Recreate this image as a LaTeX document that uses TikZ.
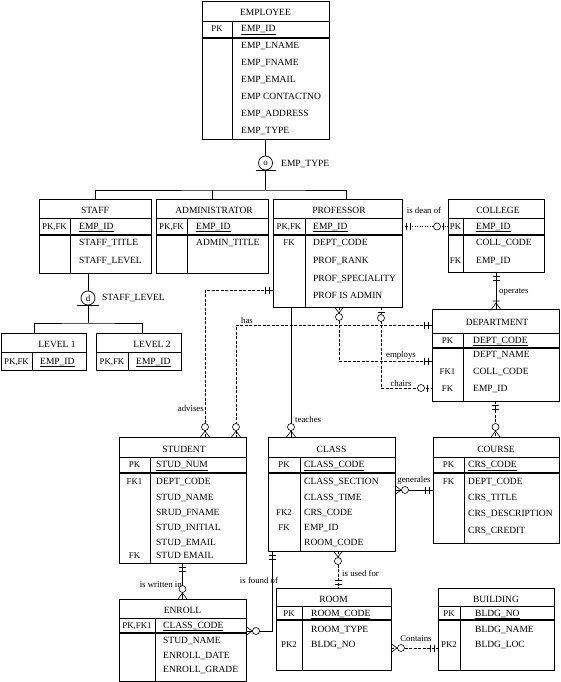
\documentclass[tikz,border=0pt]{standalone}
\usepackage{fontspec}
\setmainfont{Liberation Serif}
\usepackage{tikz}
\usetikzlibrary{positioning, decorations.markings}

\tikzset{
  mone/.pic={\draw[solid, line width=0.6pt] (-4pt,-3.5pt) -- (-4pt,3.5pt) (-8pt,-3.5pt) -- (-8pt,3.5pt);},
  oone/.pic={\draw[solid, line width=0.6pt] (-5pt,-3.5pt) -- (-5pt,3.5pt); \draw[solid, line width=0.6pt, fill=white] (-11pt,0pt) circle (3.5pt);},
  omany/.pic={\draw[solid, line width=0.6pt] (0pt,-4.5pt) -- (-6pt,0pt) -- (0pt,4.5pt); \draw[solid, line width=0.6pt, fill=white] (-10pt,0pt) circle (3.5pt);},
  mmany/.pic={\draw[solid, line width=0.6pt] (0pt,-4.5pt) -- (-6pt,0pt) -- (0pt,4.5pt) (-8pt,-3.5pt) -- (-8pt,3.5pt);},
  mkstart/.style={postaction={decorate, decoration={markings, mark=at position 0 with {\pic[transform shape, xscale=-1]{#1};}}}},
  mkend/.style={postaction={decorate, decoration={markings, mark=at position 1 with {\pic[transform shape]{#1};}}}}
}

\begin{document}
\begin{tikzpicture}[x=1pt, y=-1pt,
entity/.style={draw, rectangle, line width=0.8pt, inner sep=0pt, outer sep=0pt},
rowline/.style={line width=0.6pt},
pkline/.style={line width=1.1pt},
enttitle/.style={inner sep=0pt, font=\fontsize{9.5}{11}\selectfont, text height=6.5pt, text depth=1.5pt},
attr/.style={anchor=west, inner sep=0pt, font=\fontsize{9.5}{11}\selectfont, text height=6.5pt, text depth=1.5pt},
keytext/.style={inner sep=0pt, font=\fontsize{8.8}{10}\selectfont, text height=6.5pt, text depth=1.5pt},
rel/.style={line width=0.6pt},
dashrel/.style={rel, dash pattern=on 3pt off 1.5pt},
dotrel/.style={rel, dash pattern=on 1pt off 1.5pt},
lbl/.style={inner sep=0pt, font=\fontsize{8.8}{10}\selectfont},
disc/.style={circle, draw, line width=0.7pt, minimum size=14pt, inner sep=0pt, font=\fontsize{9}{10}\selectfont}
]
\useasboundingbox (0,0) rectangle (560,682);

% Employee
\node[entity, minimum width=127pt, minimum height=138pt] (employee) at (265.5,70) {};
\draw[rowline] (202,21) -- (329,21);
\draw[pkline] (202,38) -- (329,38);
\draw[rowline] (232,21) -- (232,139);
\node[enttitle] (employee-t) at (265.5,13) {EMPLOYEE};
\node[keytext] (employee-k0) at (217,29.5) {PK};
\node[attr] (employee-a0) at (241,29.5) {\underline{EMP\_ID}};
\node[attr] (employee-a1) at (241,46) {EMP\_LNAME};
\node[attr] (employee-a2) at (241,63) {EMP\_FNAME};
\node[attr] (employee-a3) at (241,80) {EMP\_EMAIL};
\node[attr] (employee-a4) at (241,97) {EMP CONTACTNO};
\node[attr] (employee-a5) at (241,114) {EMP\_ADDRESS};
\node[attr] (employee-a6) at (241,131) {EMP\_TYPE};

% Staff
\node[entity, minimum width=112pt, minimum height=74pt] (staff) at (95,236) {};
\draw[rowline] (39,218) -- (151,218);
\draw[pkline] (39,235) -- (151,235);
\draw[rowline] (70,218) -- (70,273);
\node[enttitle] (staff-t) at (95,211) {STAFF};
\node[keytext] (staff-k0) at (54.5,226.5) {PK,FK};
\node[attr] (staff-a0) at (79,226.5) {\underline{EMP\_ID}};
\node[attr] (staff-a1) at (79,243) {STAFF\_TITLE};
\node[attr] (staff-a2) at (79,261) {STAFF\_LEVEL};

% Administrator
\node[entity, minimum width=112pt, minimum height=74pt] (admin) at (212,236) {};
\draw[rowline] (156,218) -- (268,218);
\draw[pkline] (156,235) -- (268,235);
\draw[rowline] (187,218) -- (187,273);
\node[enttitle] (admin-t) at (214,211) {ADMINISTRATOR};
\node[keytext] (admin-k0) at (171.5,226.5) {PK,FK};
\node[attr] (admin-a0) at (196,226.5) {\underline{EMP\_ID}};
\node[attr] (admin-a1) at (196,243) {ADMIN\_TITLE};

% Professor
\node[entity, minimum width=129pt, minimum height=108pt] (professor) at (337.5,253) {};
\draw[rowline] (273,218) -- (402,218);
\draw[pkline] (273,235) -- (402,235);
\draw[rowline] (305,218) -- (305,307);
\node[enttitle] (professor-t) at (339,211) {PROFESSOR};
\node[keytext] (professor-k0) at (289,226.5) {PK,FK};
\node[attr] (professor-a0) at (313,226.5) {\underline{EMP\_ID}};
\node[keytext] (professor-k1) at (289,243) {FK};
\node[attr] (professor-a1) at (313,243) {DEPT\_CODE};
\node[attr] (professor-a2) at (313,261) {PROF\_RANK};
\node[attr] (professor-a3) at (313,279) {PROF\_SPECIALITY};
\node[attr] (professor-a4) at (313,296) {PROF IS ADMIN};

% College
\node[entity, minimum width=96pt, minimum height=73pt] (college) at (496,235.5) {};
\draw[rowline] (448,218) -- (544,218);
\draw[pkline] (448,235) -- (544,235);
\draw[rowline] (463,218) -- (463,272);
\node[enttitle] (college-t) at (498,211) {COLLEGE};
\node[keytext] (college-k0) at (455.5,226.5) {PK};
\node[attr] (college-a0) at (476,226.5) {\underline{EMP\_ID}};
\node[attr] (college-a1) at (476,243) {COLL\_CODE};
\node[keytext] (college-k2) at (455.5,261) {FK};
\node[attr] (college-a2) at (476,261) {EMP\_ID};

% Level 1 and Level 2
\node[entity, minimum width=85pt, minimum height=37pt] (level1) at (43.5,351.5) {};
\draw[rowline] (1,352) -- (86,352);
\draw[rowline] (32,352) -- (32,370);
\node[enttitle] (level1-t) at (57,345) {LEVEL 1};
\node[keytext] (level1-k0) at (16.5,361.5) {PK,FK};
\node[attr] (level1-a0) at (40,361.5) {\underline{EMP\_ID}};

\node[entity, minimum width=85pt, minimum height=37pt] (level2) at (138.5,351.5) {};
\draw[rowline] (96,352) -- (181,352);
\draw[rowline] (128,352) -- (128,370);
\node[enttitle] (level2-t) at (152,345) {LEVEL 2};
\node[keytext] (level2-k0) at (112,361.5) {PK,FK};
\node[attr] (level2-a0) at (136,361.5) {\underline{EMP\_ID}};

% Department
\node[entity, minimum width=127pt, minimum height=92pt] (department) at (495.5,355) {};
\draw[rowline] (432,333) -- (559,333);
\draw[pkline] (432,348) -- (559,348);
\draw[rowline] (463,333) -- (463,401);
\node[enttitle] (department-t) at (497,323) {DEPARTMENT};
\node[keytext] (department-k0) at (447.5,340.5) {PK};
\node[attr] (department-a0) at (473,340.5) {\underline{DEPT\_CODE}};
\node[attr] (department-a1) at (473,355) {DEPT\_NAME};
\node[keytext] (department-k2) at (447.5,372) {FK1};
\node[attr] (department-a2) at (473,372) {COLL\_CODE};
\node[keytext] (department-k3) at (447.5,389) {FK};
\node[attr] (department-a3) at (473,389) {EMP\_ID};

% Student
\node[entity, minimum width=127pt, minimum height=126pt] (student) at (182.5,500) {};
\draw[rowline] (119,457) -- (246,457);
\draw[pkline] (119,473) -- (246,473);
\draw[rowline] (150,457) -- (150,563);
\node[enttitle] (student-t) at (184,449.5) {STUDENT};
\node[keytext] (student-k0) at (134.5,465) {PK};
\node[attr] (student-a0) at (156,465) {\underline{STUD\_NUM}};
\node[keytext] (student-k1) at (134.5,482) {FK1};
\node[attr] (student-a1) at (156,482) {DEPT\_CODE};
\node[attr] (student-a2) at (156,498) {STUD\_NAME};
\node[attr] (student-a3) at (156,512.5) {SRUD\_FNAME};
\node[attr] (student-a4) at (156,528) {STUD\_INITIAL};
\node[attr] (student-a5) at (156,542.5) {STUD\_EMAIL};
\node[keytext] (student-k6) at (134.5,556) {FK};
\node[attr] (student-a6) at (156,556) {STUD EMAIL};

% Class
\node[entity, minimum width=127pt, minimum height=114pt] (class) at (331.5,494) {};
\draw[rowline] (268,457) -- (395,457);
\draw[pkline] (268,473) -- (395,473);
\draw[rowline] (300,457) -- (300,551);
\node[enttitle] (class-t) at (331.5,449.5) {CLASS};
\node[keytext] (class-k0) at (284,465) {PK};
\node[attr] (class-a0) at (304,465) {\underline{CLASS\_CODE}};
\node[attr] (class-a1) at (304,482) {CLASS\_SECTION};
\node[attr] (class-a2) at (304,498) {CLASS\_TIME};
\node[keytext] (class-k3) at (284,512.5) {FK2};
\node[attr] (class-a3) at (304,512.5) {CRS\_CODE};
\node[keytext] (class-k4) at (284,528) {FK};
\node[attr] (class-a4) at (304,528) {EMP\_ID};
\node[attr] (class-a5) at (304,542.5) {ROOM\_CODE};

% Course
\node[entity, minimum width=126pt, minimum height=106pt] (course) at (496,490) {};
\draw[rowline] (433,457) -- (559,457);
\draw[pkline] (433,473) -- (559,473);
\draw[rowline] (464,457) -- (464,543);
\node[enttitle] (course-t) at (496,449.5) {COURSE};
\node[keytext] (course-k0) at (448.5,465) {PK};
\node[attr] (course-a0) at (468,465) {\underline{CRS\_CODE}};
\node[keytext] (course-k1) at (448.5,482) {FK};
\node[attr] (course-a1) at (468,482) {DEPT\_CODE};
\node[attr] (course-a2) at (468,498) {CRS\_TITLE};
\node[attr] (course-a3) at (468,514) {CRS\_DESCRIPTION};
\node[attr] (course-a4) at (468,531) {CRS\_CREDIT};

% Enroll
\node[entity, minimum width=127pt, minimum height=82pt] (enroll) at (182.5,640) {};
\draw[rowline] (119,618) -- (246,618);
\draw[pkline] (119,633) -- (246,633);
\draw[rowline] (155,618) -- (155,681);
\node[enttitle] (enroll-t) at (182.5,610.5) {ENROLL};
\node[keytext] (enroll-k0) at (137,625.5) {PK,FK1};
\node[attr] (enroll-a0) at (163,625.5) {\underline{CLASS\_CODE}};
\node[attr] (enroll-a1) at (163,641) {STUD\_NAME};
\node[attr] (enroll-a2) at (163,656) {ENROLL\_DATE};
\node[attr] (enroll-a3) at (163,670) {ENROLL\_GRADE};

% Room
\node[entity, minimum width=115pt, minimum height=82pt] (room) at (333.5,629) {};
\draw[rowline] (276,606) -- (391,606);
\draw[pkline] (276,620) -- (391,620);
\draw[rowline] (302,606) -- (302,670);
\node[enttitle] (room-t) at (333.5,599.5) {ROOM};
\node[keytext] (room-k0) at (289,613.5) {PK};
\node[attr] (room-a0) at (311,613.5) {\underline{ROOM\_CODE}};
\node[attr] (room-a1) at (311,630) {ROOM\_TYPE};
\node[keytext] (room-k2) at (289,645) {PK2};
\node[attr] (room-a2) at (311,645) {BLDG\_NO};

% Building
\node[entity, minimum width=116pt, minimum height=82pt] (building) at (496,629) {};
\draw[rowline] (438,606) -- (554,606);
\draw[pkline] (438,620) -- (554,620);
\draw[rowline] (460,606) -- (460,670);
\node[enttitle] (building-t) at (496,599.5) {BUILDING};
\node[keytext] (building-k0) at (449,613.5) {PK};
\node[attr] (building-a0) at (475,613.5) {\underline{BLDG\_NO}};
\node[attr] (building-a1) at (475,630) {BLDG\_NAME};
\node[keytext] (building-k2) at (449,645) {PK2};
\node[attr] (building-a2) at (475,645) {BLDG\_LOC};

% Subtypes
\node[disc] (emptype) at (265.5,163) {o};
\draw[rel] ([xshift=-10pt]emptype.south) -- ([xshift=10pt]emptype.south);
\node[attr] (emptype-l) at (281,164) {EMP\_TYPE};
\coordinate (typesplit) at (265.5,190);
\draw[rel] (employee.south) -- (emptype.north);
\draw[rel] (emptype.south) -- (typesplit);
\draw[rel] (staff.north) |- (typesplit) -| ([xshift=8.5pt]professor.north);
\draw[rel] (admin.north) -- (admin.north |- typesplit);

\node[disc] (stafflevel) at (88,298) {d};
\draw[rel] ([xshift=-11pt]stafflevel.south) -- ([xshift=11pt]stafflevel.south);
\node[attr] (stafflevel-l) at (102,298) {STAFF\_LEVEL};
\coordinate (levelsplit) at (88,323);
\draw[rel] (staff.south -| stafflevel) -- (stafflevel.north);
\draw[rel] (stafflevel.south) -- (levelsplit);
\draw[rel] ([xshift=-9.5pt]level1.north) |- (levelsplit) -| ([xshift=3.5pt]level2.north);

% Relationships
\coordinate (advbend) at (205,290);
\coordinate (hasbend) at (236,325);
\coordinate (empbend) at (339,361);
\coordinate (chairbend) at (381,388);
\coordinate (teachx) at (291,420);
\coordinate (genline) at (414,490);
\coordinate (foundbend) at (272,631);
\coordinate (usedx) at (338,570);
\coordinate (contline) at (414,648);

\draw[dotrel, mkstart=mone, mkend=oone] (professor.east |- professor-a0) -- (college.west |- professor-a0);
\draw[rel, mkstart=mone, mkend=mmany] (college.south) -- (college.south |- department.north);
\draw[dashrel, mkstart=mone, mkend=omany] (professor.west |- advbend) -| (student.north -| advbend);
\draw[dashrel, mkstart=mone, mkend=omany] (department.west |- hasbend) -| (student.north -| hasbend);
\draw[dashrel, mkstart=omany, mkend=mone] (professor.south -| empbend) |- (department.west |- empbend);
\draw[dashrel, mkstart=oone, mkend=oone] (professor.south -| chairbend) |- (department.west |- chairbend);
\draw[rel, mkend=omany] (professor.south -| teachx) -- (class.north -| teachx);
\draw[dashrel, mkstart=mone, mkend=omany] (department.south) -- (department.south |- course.north);
\draw[rel, mkstart=mone, mkend=omany] (student.south) -- (student.south |- enroll.north);
\draw[rel, mkstart=mone, mkend=omany] (class.south -| foundbend) |- (enroll.east |- foundbend);
\draw[rel, mkstart=omany, mkend=mone] (class.east |- genline) -- (course.west |- genline);
\draw[dashrel, mkstart=omany, mkend=mone] (class.south -| usedx) -- (room.north -| usedx);
\draw[dashrel, mkstart=omany, mkend=mone] (room.east |- contline) -- (building.west |- contline);

\node[lbl] (deanlbl) at (424,210) {is dean of};
\node[lbl, anchor=west] (operlbl) at (499,292) {operates};
\node[lbl] (haslbl) at (247,320) {has};
\node[lbl, anchor=east] (advlbl) at (204,408) {advises};
\node[lbl] (emplbl) at (401,355) {employs};
\node[lbl] (chairlbl) at (401,383) {chairs};
\node[lbl, anchor=west] (teachlbl) at (295,419) {teaches};
\node[lbl, anchor=east] (writlbl) at (182,585) {is written in};
\node[lbl] (foundlbl) at (259,580) {is found of};
\node[lbl] (genlbl) at (414,480) {generales};
\node[lbl, anchor=west] (usedlbl) at (342,573) {is used for};
\node[lbl] (contlbl) at (416,639) {Contains};

\end{tikzpicture}
\end{document}
